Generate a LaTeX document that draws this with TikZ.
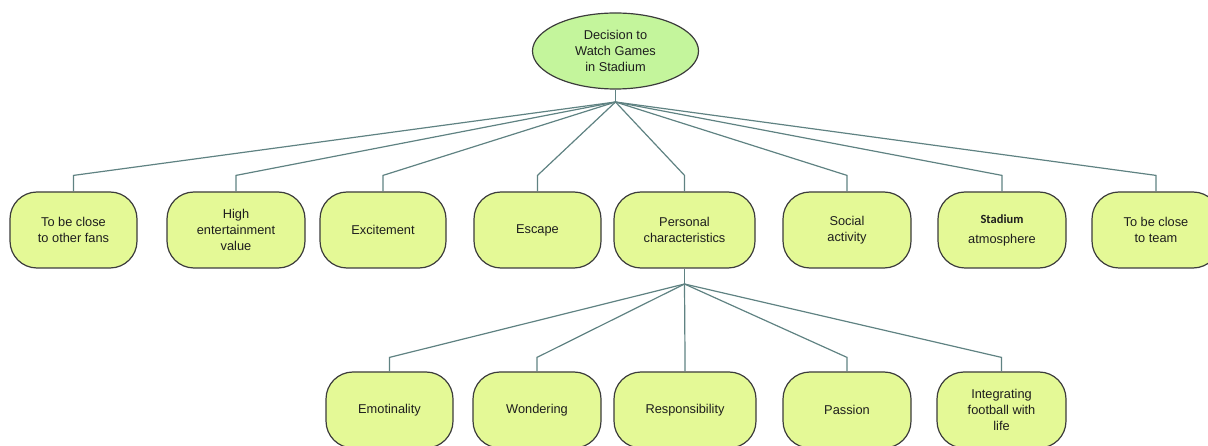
\documentclass[tikz,border=0pt]{standalone}
\usepackage{fontspec}
\setmainfont{Liberation Sans}
\newfontfamily\carlito{Carlito}
\usetikzlibrary{shapes.geometric}
\definecolor{boxfill}{RGB}{228,249,150}
\definecolor{ellfill}{RGB}{196,245,156}
\definecolor{edgecol}{RGB}{95,130,130}
\definecolor{bordercol}{RGB}{60,60,60}
\definecolor{txtcol}{RGB}{30,30,30}
\tikzset{
  boxnode/.style={draw=bordercol, fill=boxfill, line width=1.2pt, rectangle,
    rounded corners=27pt, minimum height=76pt, inner sep=0pt, align=center,
    text=txtcol, font=\fontsize{12.8}{16}\selectfont},
  rootnode/.style={draw=bordercol, fill=ellfill, line width=1.2pt, ellipse,
    minimum width=166pt, minimum height=76pt, inner sep=0pt, align=center,
    text=txtcol, font=\fontsize{12.8}{16}\selectfont},
  conn/.style={draw=edgecol, line width=1.2pt}
}
\begin{document}
\begin{tikzpicture}[x=1pt,y=-1pt]
\useasboundingbox (0,0) rectangle (1208,446);
\clip (0,0) rectangle (1208,446);
\node[rootnode] (root) at (615.5,51) {Decision to\\Watch Games\\in Stadium};
\coordinate (hub) at (615.5,102);
\node[boxnode, minimum width=127pt] (a1) at (73.5,230) {To be close\\to other fans};
\node[boxnode, minimum width=138pt] (a2) at (236,230) {High\\entertainment\\value};
\node[boxnode, minimum width=126pt] (a3) at (383,230) {Excitement};
\node[boxnode, minimum width=127pt] (a4) at (537.5,230) {Escape};
\node[boxnode, minimum width=141pt] (a5) at (684.5,230) {Personal\\characteristics};
\node[boxnode, minimum width=128pt] (a6) at (847,230) {Social\\activity};
\node[boxnode, minimum width=128pt] (a7) at (1002,230) {{\carlito\bfseries\fontsize{12.5}{14}\selectfont Stadium}\\[4pt]atmosphere};
\node[boxnode, minimum width=128pt] (a8) at (1156,230) {To be close\\to team};
\coordinate (hub2) at (684.5,284);
\node[boxnode, minimum width=127pt] (b1) at (389.5,410) {Emotinality};
\node[boxnode, minimum width=128pt] (b2) at (537,410) {Wondering};
\node[boxnode, minimum width=142pt] (b3) at (685,410) {Responsibility};
\node[boxnode, minimum width=128pt] (b4) at (847,410) {Passion};
\node[boxnode, minimum width=129pt] (b5) at (1001.5,410) {Integrating\\football with\\life};
\draw[conn] (root.south) -- (hub);
\foreach \n in {a1,a2,a3,a4,a5,a6,a7,a8}{
  \draw[conn] (hub) -- ([yshift=16pt]\n.north) -- (\n.north);
}
\draw[conn] (a5.south) -- (hub2);
\foreach \n in {b1,b2,b3,b4,b5}{
  \draw[conn] (hub2) -- ([yshift=14pt]\n.north) -- (\n.north);
}
\end{tikzpicture}
\end{document}
